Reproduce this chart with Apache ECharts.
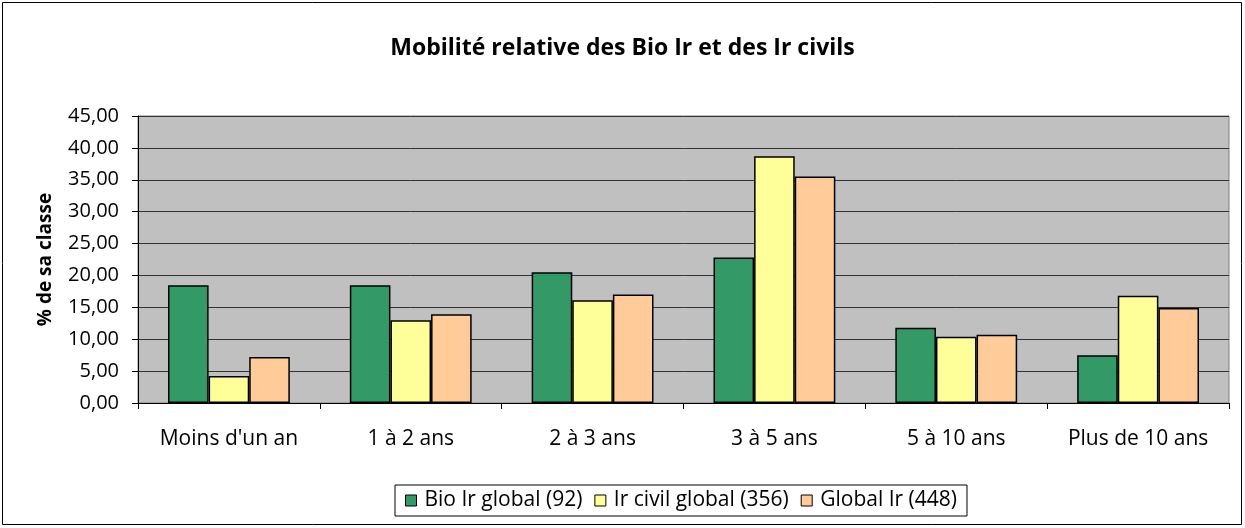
<!DOCTYPE html>
<html><head><meta charset="utf-8">
<script src="https://cdn.jsdelivr.net/npm/echarts@6/dist/echarts.min.js"></script>
<style>html,body{margin:0;padding:0;background:#fff}#c{width:1245px;height:528px}</style>
</head><body><div id="c"></div>
<script>
const categories = ["Moins d'un an", "1 à 2 ans", "2 à 3 ans", "3 à 5 ans", "5 à 10 ans", "Plus de 10 ans"];
const seriesNames = ["Bio Ir global (92)", "Ir civil global (356)", "Global Ir (448)"];
const bioIr = [18.45, 18.45, 20.5, 22.8, 11.8, 7.47];
const irCivil = [4.23, 12.96, 16.1, 38.7, 10.4, 16.8];
const globalIr = [7.2, 13.9, 17.0, 35.5, 10.7, 14.9];
const colors = ["#339966", "#FFFF99", "#FFCC99"];
const FONT = "Open Sans";
const chart = echarts.init(document.getElementById('c'));
const mk = (name, data, color) => ({
  name, type: 'bar', data, barGap: '0%', barCategoryGap: '33%',
  itemStyle: { color, borderColor: '#000', borderWidth: 1.5 }
});
chart.setOption({
  animation: false,
  textStyle: { fontFamily: FONT },
  graphic: [{ type: 'rect', shape: { x: 2.5, y: 2.5, width: 1239, height: 522 }, style: { fill: 'none', stroke: '#000', lineWidth: 1 }, z: 100 }],
  title: { text: 'Mobilité relative des Bio Ir et des Ir civils', left: 'center', top: 32,
    textStyle: { fontFamily: FONT, fontSize: 23, fontWeight: 'bold', color: '#000' } },
  legend: { bottom: 12, left: 395, itemWidth: 11, itemHeight: 11, itemGap: 12,
    padding: [5, 10], borderColor: '#000', borderWidth: 1,
    textStyle: { fontFamily: FONT, fontSize: 21, color: '#000', padding: [0, 0, 0, 3] },
    data: seriesNames.map((n) => ({ name: n, icon: 'rect', itemStyle: { borderColor: '#000', borderWidth: 1 } })) },
  grid: { left: 138, right: 16, top: 116, bottom: 125, backgroundColor: '#C0C0C0', show: true, borderColor: '#808080', borderWidth: 1 },
  xAxis: { type: 'category', data: categories,
    axisLine: { lineStyle: { color: '#000', width: 1 } },
    axisTick: { show: true, length: 6, lineStyle: { color: '#000' } },
    axisLabel: { interval: 0, fontFamily: FONT, fontSize: 21, color: '#000', margin: 26 } },
  yAxis: { type: 'value', min: 0, max: 45, interval: 5,
    name: '% de sa classe', nameLocation: 'middle', nameGap: 83, nameRotate: 90,
    nameTextStyle: { fontFamily: FONT, fontSize: 19, fontWeight: 'bold', color: '#000' },
    axisLine: { show: true, lineStyle: { color: '#000' } },
    axisTick: { show: true, length: 6, lineStyle: { color: '#000' } },
    splitLine: { lineStyle: { color: '#333', width: 1 } },
    axisLabel: { fontFamily: FONT, fontSize: 20, color: '#000', margin: 19,
      formatter: (v) => v.toFixed(2).replace('.', ',') } },
  series: [mk(seriesNames[0], bioIr, colors[0]), mk(seriesNames[1], irCivil, colors[1]), mk(seriesNames[2], globalIr, colors[2])]
});
</script></body></html>
